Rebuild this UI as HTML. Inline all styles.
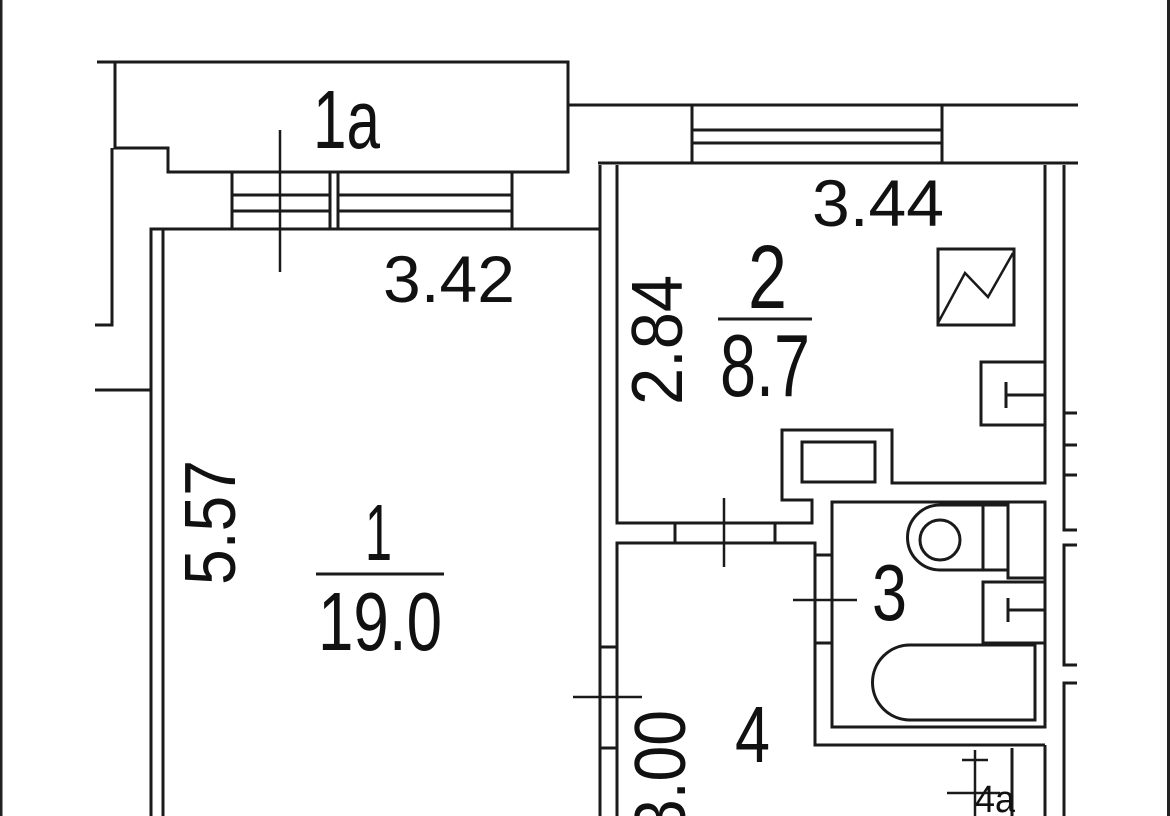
<!DOCTYPE html>
<html><head><meta charset="utf-8"><style>
html,body{margin:0;padding:0;background:#fff;}
svg{display:block;}
text{font-family:"Liberation Sans",sans-serif;fill:#111;}
</style></head><body>
<svg width="1170" height="816" viewBox="0 0 1170 816" xmlns="http://www.w3.org/2000/svg">
<rect x="0" y="0" width="1170" height="816" fill="#fff"/>
<rect x="0" y="0" width="2.5" height="816" fill="#222"/>
<rect x="1167" y="0" width="3" height="816" fill="#222"/>
<g fill="none" stroke="#1a1a1a" stroke-width="3">
<!-- balcony 1a -->
<polyline points="97,62 568,62 568,172 168,172 168,148 115,148 115,62"/>
<line x1="568" y1="105" x2="1078" y2="105"/>
<polyline points="112,148 112,325 95,325"/>
<line x1="95" y1="390" x2="151" y2="390"/>
<!-- left window -->
<line x1="232" y1="172" x2="232" y2="229"/>
<line x1="330" y1="172" x2="330" y2="229"/>
<line x1="338" y1="172" x2="338" y2="229"/>
<line x1="512" y1="172" x2="512" y2="229"/>
<line x1="232" y1="195" x2="330" y2="195"/>
<line x1="232" y1="211" x2="330" y2="211"/>
<line x1="338" y1="195" x2="512" y2="195"/>
<line x1="338" y1="211" x2="512" y2="211"/>
<line x1="280" y1="130" x2="280" y2="272" stroke-width="2.5"/>
<!-- room 1 -->
<polyline points="151,816 151,229 600,229"/>
<line x1="163" y1="229" x2="163" y2="816"/>
<line x1="600" y1="165" x2="600" y2="816"/>
<!-- right top wall / window -->
<line x1="598" y1="163" x2="1078" y2="163"/>
<line x1="692" y1="105" x2="692" y2="163"/>
<line x1="942" y1="105" x2="942" y2="163"/>
<line x1="692" y1="130" x2="942" y2="130"/>
<line x1="692" y1="143" x2="942" y2="143"/>
<!-- room 2 -->
<polyline points="617,165 617,523 812,523 812,500 782,500 782,430 892,430 892,483 1045,483 1045,165"/>
<rect x="802" y="442" width="73" height="40"/>
<polyline points="1064,165 1064,530 1077,530"/>
<line x1="1064" y1="413" x2="1077" y2="413"/>
<line x1="1064" y1="445" x2="1077" y2="445"/>
<line x1="1064" y1="475" x2="1077" y2="475"/>
<polyline points="1077,545 1064,545 1064,665 1077,665"/>
<polyline points="1077,683 1064,683 1064,816"/>
<!-- stove -->
<rect x="938" y="249" width="76" height="76"/>
<polyline points="938,323 965,273 988,297 1013,253" stroke-width="2.5"/>
<!-- fixture -->
<polyline points="1045,362 981,362 981,425 1045,425"/>
<line x1="1006" y1="395" x2="1045" y2="395"/>
<line x1="1006" y1="382" x2="1006" y2="408"/>
<!-- room 4 -->
<polyline points="617,816 617,543 815,543 815,745 1045,745"/>
<line x1="675" y1="523" x2="675" y2="543"/>
<line x1="775" y1="523" x2="775" y2="543"/>
<line x1="724" y1="498" x2="724" y2="567" stroke-width="2.5"/>
<line x1="600" y1="647" x2="617" y2="647"/>
<line x1="600" y1="748" x2="617" y2="748"/>
<line x1="573" y1="697" x2="642" y2="697" stroke-width="2.5"/>
<!-- bathroom -->
<rect x="832" y="502" width="213" height="225"/>
<line x1="815" y1="555" x2="832" y2="555"/>
<line x1="815" y1="643" x2="832" y2="643"/>
<line x1="793" y1="600" x2="857" y2="600" stroke-width="2.5"/>
<path d="M1008,505 H940 A32,32 0 0 0 940,570 H1008 Z"/>
<circle cx="940" cy="540" r="20"/>
<line x1="983" y1="505" x2="983" y2="570"/>
<polyline points="1008,505 1008,578 1045,578"/>
<rect x="983" y="582" width="62" height="61"/>
<line x1="1008" y1="610" x2="1045" y2="610"/>
<line x1="1008" y1="598" x2="1008" y2="622"/>
<path d="M1035,645 H910 A37,37 0 0 0 910,720 H1035 Z"/>
<!-- 4a -->
<line x1="1045" y1="745" x2="1045" y2="816"/>
<line x1="1012" y1="748" x2="1012" y2="816"/>
<line x1="962" y1="760" x2="988" y2="760" stroke-width="2.5"/>
<line x1="975" y1="750" x2="975" y2="816" stroke-width="2.5"/>
<line x1="947" y1="793" x2="1000" y2="793" stroke-width="2.5"/>
<!-- fraction lines -->
<line x1="718" y1="319" x2="812" y2="319"/>
<line x1="316" y1="574" x2="444" y2="574"/>
</g>
<text x="313" y="148" font-size="83" textLength="67" lengthAdjust="spacingAndGlyphs">1a</text>
<text x="383" y="302" font-size="66" textLength="132" lengthAdjust="spacingAndGlyphs">3.42</text>
<text x="812" y="226" font-size="66" textLength="132" lengthAdjust="spacingAndGlyphs">3.44</text>
<text x="748" y="308" font-size="90" textLength="39" lengthAdjust="spacingAndGlyphs">2</text>
<text x="720" y="396" font-size="88" textLength="90" lengthAdjust="spacingAndGlyphs">8.7</text>
<text x="365" y="560" font-size="80" textLength="27" lengthAdjust="spacingAndGlyphs">1</text>
<text x="318" y="650" font-size="83" textLength="124" lengthAdjust="spacingAndGlyphs">19.0</text>
<text x="872" y="620" font-size="80" textLength="35" lengthAdjust="spacingAndGlyphs">3</text>
<text x="735" y="762" font-size="80" textLength="35" lengthAdjust="spacingAndGlyphs">4</text>
<text x="975" y="812" font-size="38" textLength="40" lengthAdjust="spacingAndGlyphs">4a</text>
<text transform="translate(682,405) rotate(-90)" font-size="72" textLength="130" lengthAdjust="spacingAndGlyphs">2.84</text>
<text transform="translate(235,585) rotate(-90)" font-size="72" textLength="125" lengthAdjust="spacingAndGlyphs">5.57</text>
<text transform="translate(685,835) rotate(-90)" font-size="72" textLength="125" lengthAdjust="spacingAndGlyphs">3.00</text>
</svg>
</body></html>
